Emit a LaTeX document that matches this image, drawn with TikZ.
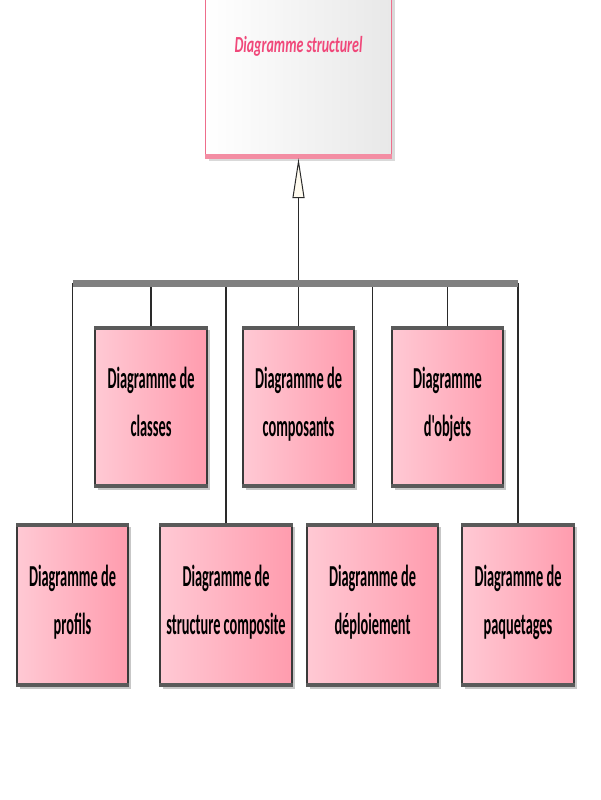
\documentclass[tikz,border=0pt]{standalone}
\usepackage{fontspec}
\setmainfont{Carlito}
\newfontfamily\boxfont{Carlito}[FakeStretch=0.47]
\newfontfamily\topfont{Carlito}[FakeStretch=0.61]
\usetikzlibrary{arrows.meta,shadows}
\definecolor{pinkL}{HTML}{FFC9D4}
\definecolor{pinkR}{HTML}{FF9CAE}
\definecolor{edgec}{HTML}{3A3A3A}
\definecolor{bandc}{HTML}{5A5A5A}
\definecolor{topedge}{HTML}{EE6E8C}
\definecolor{topband}{HTML}{F38DA3}
\definecolor{toptext}{HTML}{F0487A}
\definecolor{cream}{HTML}{FFFBEF}
\definecolor{busc}{HTML}{808080}
\definecolor{wirec}{HTML}{2A2A2A}
\begin{document}
\begin{tikzpicture}[x=1pt,y=-1pt,
  diag/.style={rectangle, draw=edgec, line width=1.1pt, left color=pinkL, right color=pinkR,
    align=center, inner sep=0pt, text=black, text depth=10pt,
    font=\boxfont\bfseries\fontsize{30.5pt}{48pt}\selectfont,
    drop shadow={shadow xshift=3pt, shadow yshift=-3pt, fill=black, opacity=0.22}},
  topbox/.style={rectangle, draw=topedge, line width=1.4pt, left color=white, right color=black!9,
    inner sep=0pt,
    drop shadow={shadow xshift=3pt, shadow yshift=-3pt, fill=black, opacity=0.15}},
  toplabel/.style={font=\topfont\bfseries\itshape\fontsize{23pt}{26pt}\selectfont, text=toptext, inner sep=0pt},
  wire/.style={draw=wirec, line width=1.2pt},
  busline/.style={draw=busc, line width=7pt},
  gen/.style={-{Triangle[length=40pt,width=12pt,fill=cream,line width=1pt]}}
]
\useasboundingbox (0,0) rectangle (600,800);

% parent
\node[topbox, minimum width=186pt, minimum height=161pt] (top) at (298.5,77) {};
\draw[topband, line width=5pt] ([yshift=2pt]top.south west) -- ([yshift=2pt]top.south east);
\draw[topband, line width=3pt] ([yshift=-1pt]top.north west) -- ([yshift=-1pt]top.north east);
\node[toplabel] (toplbl) at (298.5,46) {Diagramme structurel};

% children row 1
\node[diag, minimum width=112pt, minimum height=160pt] (classes) at (151,407) {Diagramme de\\classes};
\node[diag, minimum width=111pt, minimum height=160pt] (composants) at (298.5,407) {Diagramme de\\composants};
\node[diag, minimum width=111pt, minimum height=160pt] (objets) at (447.5,407) {Diagramme\\d'objets};
% children row 2
\node[diag, minimum width=111pt, minimum height=162pt] (profils) at (72.5,605) {Diagramme de\\profils};
\node[diag, minimum width=132pt, minimum height=162pt] (composite) at (226,605) {Diagramme de\\structure composite};
\node[diag, minimum width=131pt, minimum height=162pt] (deploiement) at (372.5,605) {Diagramme de\\déploiement};
\node[diag, minimum width=112pt, minimum height=162pt] (paquetages) at (518,605) {Diagramme de\\paquetages};

\foreach \n in {classes,composants,objets,profils,composite,deploiement,paquetages}{
  \draw[bandc, line width=4pt] ([yshift=-1.5pt]\n.north west) -- ([yshift=-1.5pt]\n.north east);
  \draw[bandc, line width=4pt] ([yshift=1.5pt]\n.south west) -- ([yshift=1.5pt]\n.south east);
}

% bus
\coordinate (busL) at (72.5,283);
\coordinate (busR) at (518,283);
\foreach \n in {classes,objets,profils,composite,deploiement,paquetages}{
  \draw[wire] (\n.north) -- (\n.north |- busL);
}
\draw[wire, gen] (composants.north) -- (top.south);
\draw[busline] (busL) -- (busR);
\end{tikzpicture}
\end{document}
